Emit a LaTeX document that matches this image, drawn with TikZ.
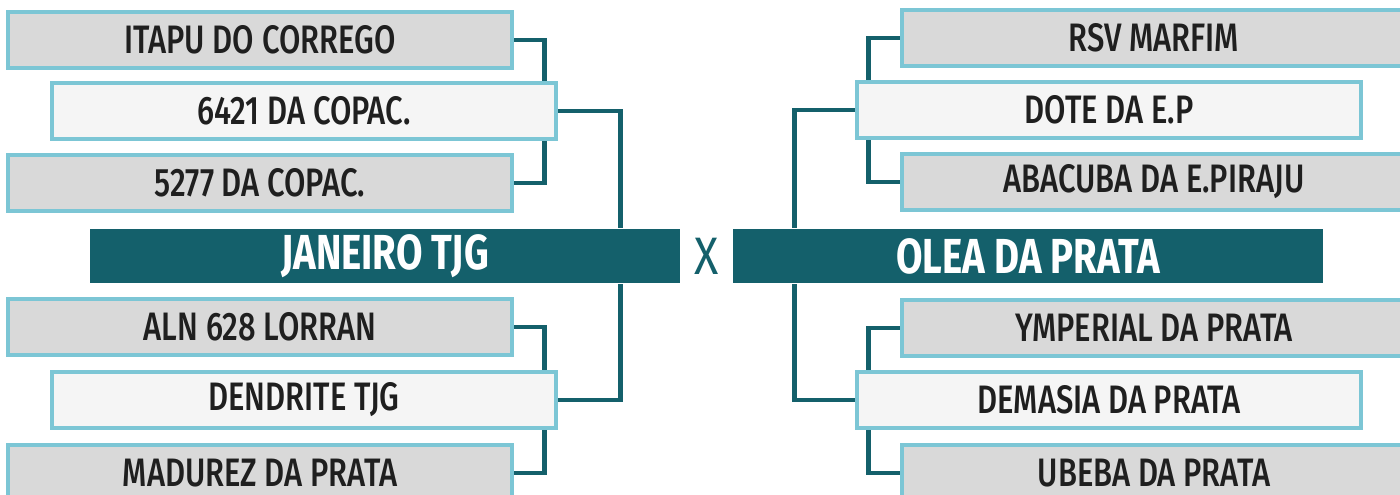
\documentclass[tikz,border=0pt]{standalone}
\usepackage{fontspec}
\setmainfont{Fira Sans}[FakeStretch=0.78, UprightFont=* Medium, BoldFont=* Bold]
\newfontfamily\vsfont{Fira Sans}[FakeStretch=0.85]
\usepackage{xcolor}
\usepackage{tikz}
\usetikzlibrary{
  positioning,
  backgrounds
}
\definecolor{teal}{HTML}{14606B}
\definecolor{edge}{HTML}{7CC6D5}
\definecolor{boxgray}{HTML}{D9D9D9}
\definecolor{boxlight}{HTML}{F5F5F5}

\begin{document}
\begin{tikzpicture}[
  teambox/.style={
    draw=edge, fill=boxgray, line width=0.9pt,
    minimum width=5.04cm, minimum height=0.56cm,
    font=\fontsize{11.3}{13}\selectfont, text=black!88, inner sep=0pt
  },
  seedbox/.style={teambox, fill=boxlight},
  finalbox/.style={
    fill=teal, draw=none, minimum width=5.9cm, minimum height=0.54cm,
    font=\fontsize{14}{16}\selectfont\bfseries, text=white, inner sep=0pt
  },
  link/.style={draw=teal, line width=1.4pt}
]
  \useasboundingbox (0,0) rectangle (14,-4.95);
  \clip (0,0) rectangle (14,-4.95);

  % finalists
  \node[finalbox] (janeiro) at (3.85, -2.56) {JANEIRO TJG};
  \node[finalbox] (olea)    at (10.28,-2.56) {OLEA DA PRATA};
  \node[text=teal, font=\vsfont\fontsize{15}{16}\selectfont] (vs) at (7.07,-2.56) {X};

  % left side
  \node[teambox] (itapu)    at (2.60,-0.40) {ITAPU DO CORREGO};
  \node[seedbox] (copac1)   at (3.04,-1.11) {6421 DA COPAC.};
  \node[teambox] (copac2)   at (2.60,-1.83) {5277 DA COPAC.};
  \node[teambox] (lorran)   at (2.60,-3.27) {ALN 628 LORRAN};
  \node[seedbox] (dendrite) at (3.04,-4.00) {DENDRITE TJG};
  \node[teambox] (madurez)  at (2.60,-4.73) {MADUREZ DA PRATA};

  % right side
  \node[teambox] (marfim)   at (11.54,-0.38) {RSV MARFIM};
  \node[seedbox] (dote)     at (11.09,-1.10) {DOTE DA E.P};
  \node[teambox] (abacuba)  at (11.54,-1.82) {ABACUBA DA E.PIRAJU};
  \node[teambox] (ymperial) at (11.54,-3.28) {YMPERIAL DA PRATA};
  \node[seedbox] (demasia)  at (11.09,-4.00) {DEMASIA DA PRATA};
  \node[teambox] (ubeba)    at (11.54,-4.73) {UBEBA DA PRATA};

  \begin{scope}[on background layer]
    \draw[link] (itapu.east) -- ++(0.31,0) |- (copac2.east);
    \draw[link] (lorran.east) -- ++(0.31,0) |- (madurez.east);
    \draw[link] (copac1.east) -| ([xshift=-6mm]janeiro.north east);
    \draw[link] (dendrite.east) -| ([xshift=-6mm]janeiro.south east);
    \draw[link] (marfim.west) -- ++(-0.32,0) |- (abacuba.west);
    \draw[link] (ymperial.west) -- ++(-0.32,0) |- (ubeba.west);
    \draw[link] (dote.west) -| ([xshift=6.2mm]olea.north west);
    \draw[link] (demasia.west) -| ([xshift=6.2mm]olea.south west);
  \end{scope}
\end{tikzpicture}
\end{document}
